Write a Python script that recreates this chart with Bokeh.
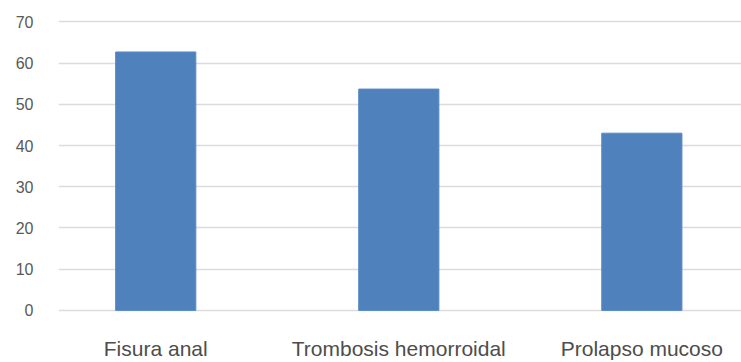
from bokeh.plotting import figure
from bokeh.models import Range1d, FixedTicker, ColumnDataSource
from bokeh.embed import file_html
from bokeh.resources import INLINE

# Anal pathology findings
categories = ["Fisura anal", "Trombosis hemorroidal", "Prolapso mucoso"]
values = [62.7, 53.7, 43.0]
y_ticks = [0, 10, 20, 30, 40, 50, 60, 70]

positions = list(range(len(categories)))
source = ColumnDataSource(data=dict(x=positions, top=values, name=categories))

p = figure(
    width=741, height=362,
    output_backend="svg", toolbar_location=None,
    x_range=Range1d(-0.40, 2.41),
    y_range=Range1d(-0.5, 73),
    min_border_left=58, min_border_right=0,
    min_border_top=9, min_border_bottom=50,
)
p.outline_line_color = None
p.background_fill_color = "white"
p.border_fill_color = "white"

p.vbar(x="x", top="top", bottom=0, width=0.33, source=source,
       fill_color="#4F81BD", line_color="#5B8BC6", line_width=1)

# y axis: gray numbers, no line or ticks
p.yaxis.ticker = FixedTicker(ticks=y_ticks)
p.yaxis.axis_line_color = None
p.yaxis.major_tick_line_color = None
p.yaxis.minor_tick_line_color = None
p.yaxis.major_tick_out = 0
p.yaxis.major_label_standoff = 25
p.yaxis.major_label_text_font = "Liberation Sans"
p.yaxis.major_label_text_font_size = "16px"
p.yaxis.major_label_text_color = "#595959"

# x axis: category names under each bar
p.xaxis.ticker = FixedTicker(ticks=positions)
p.xaxis.major_label_overrides = {i: c for i, c in enumerate(categories)}
p.xaxis.axis_line_color = None
p.xaxis.major_tick_line_color = None
p.xaxis.minor_tick_line_color = None
p.xaxis.major_tick_out = 0
p.xaxis.major_label_standoff = 24
p.xaxis.major_label_text_font = "Liberation Sans"
p.xaxis.major_label_text_font_size = "21px"
p.xaxis.major_label_text_color = "#4D4D4D"

p.xgrid.grid_line_color = None
p.ygrid.ticker = FixedTicker(ticks=y_ticks)
p.ygrid.grid_line_color = "#DCDCDC"
p.ygrid.grid_line_width = 1.5

open("out.html", "w").write(file_html(p, INLINE))
